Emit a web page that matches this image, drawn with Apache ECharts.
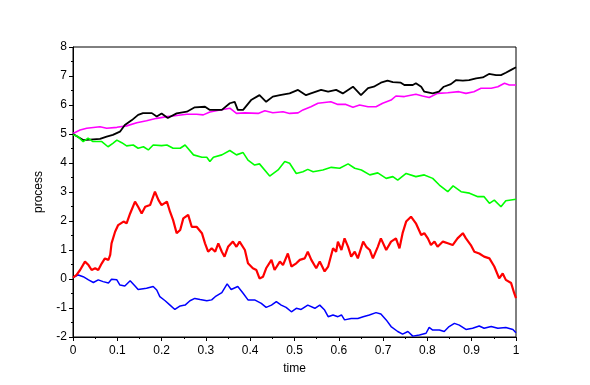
<!DOCTYPE html>
<html>
<head>
<meta charset="utf-8">
<script src="https://cdn.jsdelivr.net/npm/echarts@6/dist/echarts.min.js"></script>
<style>
  html, body { margin: 0; padding: 0; background: #fff; }
  #main { width: 590px; height: 385px; }
</style>
</head>
<body>
<div id="main"></div>
<script>
// values (time, process)
const blackT = [0, 0.023, 0.061, 0.076, 0.090, 0.106, 0.117, 0.133, 0.147, 0.158, 0.178, 0.189, 0.200, 0.214, 0.234, 0.257, 0.275, 0.298, 0.309, 0.336, 0.354, 0.365, 0.372, 0.376, 0.384, 0.402, 0.421, 0.436, 0.451, 0.467, 0.489, 0.508, 0.526, 0.537, 0.560, 0.576, 0.594, 0.609, 0.632, 0.650, 0.666, 0.679, 0.695, 0.710, 0.722, 0.740, 0.748, 0.767, 0.774, 0.786, 0.793, 0.812, 0.826, 0.837, 0.853, 0.865, 0.880, 0.894, 0.910, 0.925, 0.939, 0.955, 0.966, 0.977, 0.989, 1.0];
const blackY = [5.0, 4.79, 4.83, 4.91, 4.97, 5.08, 5.31, 5.48, 5.66, 5.72, 5.72, 5.6, 5.71, 5.55, 5.71, 5.77, 5.92, 5.94, 5.83, 5.83, 6.06, 6.11, 5.83, 5.77, 5.83, 6.17, 6.34, 6.11, 6.29, 6.34, 6.4, 6.52, 6.34, 6.4, 6.52, 6.46, 6.52, 6.4, 6.63, 6.34, 6.58, 6.63, 6.77, 6.84, 6.79, 6.77, 6.69, 6.69, 6.75, 6.63, 6.46, 6.4, 6.46, 6.63, 6.72, 6.86, 6.84, 6.86, 6.92, 6.95, 7.07, 7.03, 7.03, 7.11, 7.21, 7.3];

const magentaT = [0, 0.016, 0.031, 0.061, 0.076, 0.099, 0.121, 0.144, 0.166, 0.189, 0.212, 0.234, 0.257, 0.279, 0.294, 0.309, 0.332, 0.354, 0.369, 0.388, 0.418, 0.433, 0.451, 0.474, 0.489, 0.508, 0.519, 0.537, 0.553, 0.582, 0.598, 0.616, 0.632, 0.647, 0.666, 0.684, 0.699, 0.718, 0.729, 0.748, 0.774, 0.789, 0.804, 0.823, 0.846, 0.871, 0.887, 0.905, 0.921, 0.944, 0.959, 0.974, 0.985, 1.0];
const magentaY = [5.02, 5.14, 5.2, 5.25, 5.2, 5.23, 5.28, 5.39, 5.46, 5.54, 5.6, 5.64, 5.68, 5.68, 5.66, 5.76, 5.83, 5.89, 5.71, 5.73, 5.71, 5.8, 5.73, 5.77, 5.71, 5.73, 5.83, 5.94, 6.06, 6.11, 6.02, 6.02, 5.92, 6.0, 5.94, 5.94, 6.06, 6.17, 6.31, 6.29, 6.37, 6.31, 6.26, 6.4, 6.42, 6.46, 6.4, 6.46, 6.58, 6.58, 6.63, 6.75, 6.69, 6.69];

const greenT = [0, 0.011, 0.023, 0.034, 0.045, 0.065, 0.079, 0.090, 0.099, 0.110, 0.121, 0.136, 0.147, 0.159, 0.170, 0.181, 0.200, 0.212, 0.226, 0.242, 0.253, 0.272, 0.291, 0.302, 0.309, 0.317, 0.336, 0.354, 0.369, 0.384, 0.395, 0.410, 0.421, 0.444, 0.463, 0.478, 0.489, 0.504, 0.519, 0.530, 0.542, 0.564, 0.583, 0.602, 0.621, 0.636, 0.651, 0.670, 0.688, 0.707, 0.722, 0.733, 0.752, 0.774, 0.793, 0.812, 0.827, 0.846, 0.858, 0.876, 0.895, 0.914, 0.928, 0.940, 0.951, 0.966, 0.977, 1.0];
const greenY = [4.97, 4.91, 4.74, 4.86, 4.74, 4.74, 4.56, 4.68, 4.79, 4.7, 4.59, 4.62, 4.51, 4.56, 4.45, 4.62, 4.6, 4.62, 4.51, 4.51, 4.62, 4.28, 4.2, 4.2, 4.05, 4.2, 4.28, 4.43, 4.28, 4.36, 4.1, 3.93, 3.97, 3.55, 3.76, 4.05, 3.99, 3.64, 3.7, 3.78, 3.7, 3.76, 3.85, 3.82, 3.97, 3.82, 3.76, 3.59, 3.66, 3.47, 3.53, 3.41, 3.64, 3.53, 3.59, 3.47, 3.24, 3.01, 3.21, 3.01, 2.96, 2.84, 2.84, 2.61, 2.72, 2.49, 2.7, 2.75];

const redT = [0, 0.008, 0.016, 0.027, 0.035, 0.042, 0.050, 0.057, 0.065, 0.072, 0.080, 0.084, 0.087, 0.095, 0.102, 0.114, 0.121, 0.129, 0.140, 0.147, 0.155, 0.163, 0.174, 0.185, 0.193, 0.200, 0.212, 0.219, 0.226, 0.234, 0.242, 0.249, 0.260, 0.268, 0.279, 0.291, 0.298, 0.305, 0.313, 0.321, 0.328, 0.336, 0.342, 0.350, 0.361, 0.369, 0.376, 0.388, 0.395, 0.406, 0.414, 0.421, 0.429, 0.436, 0.448, 0.455, 0.467, 0.474, 0.485, 0.493, 0.504, 0.512, 0.523, 0.530, 0.538, 0.549, 0.557, 0.568, 0.576, 0.587, 0.594, 0.598, 0.606, 0.613, 0.621, 0.628, 0.636, 0.643, 0.655, 0.662, 0.670, 0.677, 0.688, 0.695, 0.707, 0.718, 0.729, 0.737, 0.744, 0.752, 0.763, 0.767, 0.774, 0.786, 0.793, 0.801, 0.808, 0.816, 0.823, 0.835, 0.846, 0.857, 0.868, 0.880, 0.887, 0.898, 0.906, 0.917, 0.928, 0.940, 0.951, 0.962, 0.970, 0.977, 0.989, 0.996, 1.0];
const redY = [0.05, 0.14, 0.31, 0.6, 0.48, 0.31, 0.37, 0.31, 0.54, 0.71, 0.66, 0.83, 1.23, 1.63, 1.86, 1.98, 1.92, 2.26, 2.67, 2.49, 2.26, 2.49, 2.55, 3.01, 2.72, 2.55, 2.67, 2.32, 2.03, 1.58, 1.69, 2.09, 2.21, 1.8, 1.8, 1.58, 1.23, 0.94, 1.06, 0.94, 1.23, 0.94, 0.77, 1.11, 1.29, 1.11, 1.29, 1.0, 0.54, 0.37, 0.31, 0.02, 0.08, 0.37, 0.66, 0.31, 0.6, 0.48, 0.88, 0.43, 0.54, 0.66, 0.71, 0.94, 0.66, 0.37, 0.6, 0.26, 0.43, 1.06, 0.94, 1.29, 1.0, 1.4, 1.11, 0.77, 0.94, 0.71, 1.29, 1.11, 1.0, 0.71, 1.11, 1.4, 1.0, 1.29, 1.4, 1.06, 1.58, 1.98, 2.15, 2.21, 1.92, 1.52, 1.58, 1.4, 1.17, 1.29, 1.11, 1.29, 1.23, 1.17, 1.4, 1.58, 1.4, 1.17, 0.94, 0.88, 0.77, 0.71, 0.43, 0.02, 0.19, -0.03, -0.14, -0.49, -0.66];

const blueT = [0, 0.012, 0.023, 0.035, 0.046, 0.057, 0.068, 0.080, 0.087, 0.099, 0.106, 0.117, 0.129, 0.140, 0.147, 0.166, 0.181, 0.189, 0.196, 0.208, 0.219, 0.230, 0.242, 0.253, 0.264, 0.275, 0.287, 0.302, 0.313, 0.321, 0.336, 0.348, 0.357, 0.372, 0.384, 0.395, 0.410, 0.425, 0.436, 0.448, 0.459, 0.470, 0.481, 0.493, 0.504, 0.515, 0.530, 0.546, 0.557, 0.568, 0.576, 0.587, 0.598, 0.606, 0.613, 0.628, 0.643, 0.655, 0.669, 0.684, 0.695, 0.707, 0.718, 0.733, 0.744, 0.756, 0.767, 0.782, 0.797, 0.804, 0.812, 0.827, 0.838, 0.849, 0.861, 0.872, 0.887, 0.902, 0.917, 0.928, 0.944, 0.959, 0.977, 0.993, 1.0];
const blueY = [0.05, 0.14, 0.08, -0.03, -0.12, -0.03, -0.09, -0.14, -0.01, -0.03, -0.21, -0.24, -0.06, -0.24, -0.36, -0.32, -0.26, -0.38, -0.61, -0.75, -0.9, -1.05, -0.93, -0.9, -0.75, -0.67, -0.71, -0.75, -0.72, -0.61, -0.47, -0.17, -0.36, -0.26, -0.49, -0.72, -0.72, -0.84, -0.98, -0.9, -0.78, -0.9, -0.98, -1.13, -1.01, -1.05, -0.9, -1.01, -0.9, -1.07, -1.3, -1.24, -1.3, -1.24, -1.41, -1.36, -1.36, -1.3, -1.24, -1.16, -1.21, -1.41, -1.64, -1.81, -1.9, -1.81, -1.97, -1.93, -1.87, -1.67, -1.76, -1.76, -1.81, -1.64, -1.53, -1.59, -1.74, -1.7, -1.62, -1.7, -1.64, -1.7, -1.67, -1.74, -1.85];

const xMin = 0, xMax = 1, xStep = 0.1;
const yMin = -2, yMax = 8, yStep = 1;

const pairs = (ts, ys) => ts.map((t, i) => [t, ys[i]]);

const chart = echarts.init(document.getElementById("main"), null, { renderer: "canvas" });

const font = "Liberation Sans, Arial, sans-serif";

const axisCommon = {
  axisLine: { show: true, onZero: false, lineStyle: { color: "#000", width: 1 } },
  axisTick: { show: true, inside: false, length: 4, lineStyle: { color: "#000" } },
  minorTick: { show: true, splitNumber: 2, length: 2, lineStyle: { color: "#000" } },
  splitLine: { show: false },
  axisLabel: { color: "#000", fontSize: 12, fontFamily: font, showMinLabel: true, showMaxLabel: true },
  nameTextStyle: { color: "#000", fontSize: 12, fontFamily: font },
};

const line = (name, data, color, width) => ({
  name,
  type: "line",
  data,
  showSymbol: false,
  symbol: "none",
  lineStyle: { color, width },
  itemStyle: { color },
  silent: true,
});

const option = {
  animation: false,
  backgroundColor: "#fff",
  grid: {
    left: 73, right: 74, top: 47, bottom: 48,
    show: true, borderColor: "#000", borderWidth: 1, backgroundColor: "transparent",
  },
  xAxis: Object.assign({}, axisCommon, {
    type: "value", min: xMin, max: xMax, interval: xStep,
    name: "time", nameLocation: "middle", nameGap: 26,
  }),
  yAxis: Object.assign({}, axisCommon, {
    type: "value", min: yMin, max: yMax, interval: yStep,
    name: "process", nameLocation: "middle", nameGap: 28,
    axisLabel: Object.assign({}, axisCommon.axisLabel, { margin: 6 }),
  }),
  series: [
    line("magenta", pairs(magentaT, magentaY), "#ff00ff", 1.6),
    line("black", pairs(blackT, blackY), "#000000", 1.8),
    line("green", pairs(greenT, greenY), "#00ff00", 1.6),
    line("blue", pairs(blueT, blueY), "#0000ff", 1.5),
    line("red", pairs(redT, redY), "#ff0000", 2.2),
  ],
};

option && chart.setOption(option);
</script>
</body>
</html>
